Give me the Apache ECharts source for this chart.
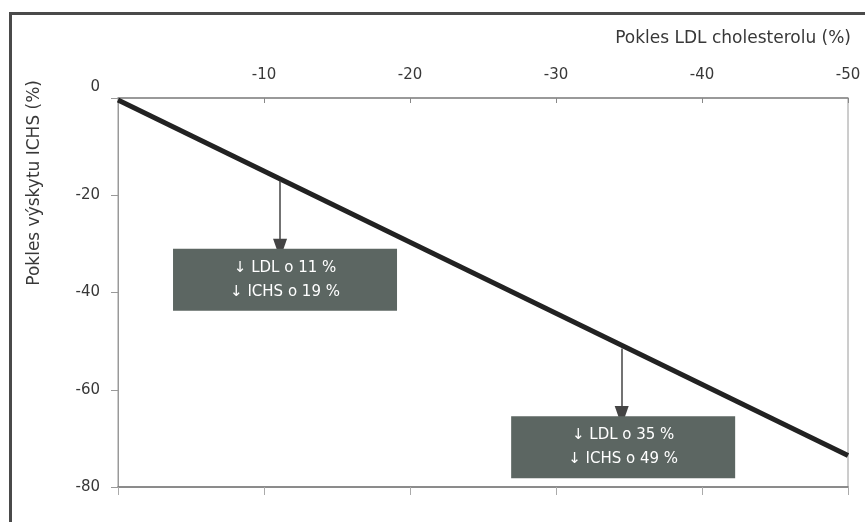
<!DOCTYPE html>
<html>
<head>
<meta charset="utf-8">
<script src="https://cdn.jsdelivr.net/npm/echarts@6/dist/echarts.min.js"></script>
<style>
html,body{margin:0;padding:0;background:#fff;}
#frame{position:absolute;left:9px;top:12px;width:880px;height:540px;border-left:3px solid #4a4a4a;border-top:3px solid #4a4a4a;box-sizing:border-box;}
#chart{position:absolute;left:0;top:0;width:865px;height:522px;}
</style>
</head>
<body>
<div id="frame"></div>
<div id="chart"></div>
<script>
// Data
const ldlDrop = [0, -50];          // Pokles LDL cholesterolu (%)
const ichsDrop = [-0.4, -73.5];    // Pokles výskytu ICHS (%)
const xTicks = [0, -10, -20, -30, -40, -50];
const yTicks = [0, -20, -40, -60, -80];
const annotLdl = [-11.1, -34.5];        // arrow x positions
const annotLineY = [-17, -51.5];        // arrow start (on the line)
const annotArrowEnd = [-31, -65.4];     // arrow tip
const annotBoxX = [-11.44, -34.6];
const annotBoxY = [-37.4, -71.8];
const annotText = ['↓ LDL o 11 %\n↓ ICHS o 19 %', '↓ LDL o 35 %\n↓ ICHS o 49 %'];
const xTitle = 'Pokles LDL cholesterolu (%)';
const yTitle = 'Pokles výskytu ICHS (%)';

const font = 'DejaVu Sans';
const chart = echarts.init(document.getElementById('chart'), null, {renderer: 'canvas'});

const lineData = ldlDrop.map((x, i) => [x, ichsDrop[i]]);
const arrows = annotLdl.map((x, i) => [
  {coord: [x, annotLineY[i]]},
  {coord: [x, annotArrowEnd[i]]}
]);
const boxes = annotBoxX.map((x, i) => ({
  coord: [x, annotBoxY[i]],
  label: {formatter: annotText[i]}
}));

chart.setOption({
  animation: false,
  backgroundColor: 'transparent',
  grid: {left: 118, right: 17, top: 98, bottom: 35, outerBoundsMode: 'none', containLabel: false,
    show: true, borderColor: '#9a9a9a', borderWidth: 1, backgroundColor: '#fff'},
  xAxis: [{
    type: 'value', position: 'top', inverse: true, min: -50, max: 0, interval: 10,
    axisLine: {lineStyle: {color: '#888', width: 1.5}},
    axisTick: {show: true, length: 5, inside: true, lineStyle: {color: '#888'}},
    axisLabel: {fontFamily: font, fontSize: 15, color: '#383838', margin: 15,
      formatter: v => (v === 0 ? '' : String(v))},
    splitLine: {show: false}
  }, {
    type: 'value', position: 'bottom', inverse: true, min: -50, max: 0, interval: 10,
    axisLine: {show: true, lineStyle: {color: '#777', width: 1.5}},
    axisTick: {show: true, length: 8, lineStyle: {color: '#aaa'}},
    axisLabel: {show: false},
    splitLine: {show: false}
  }],
  yAxis: {
    type: 'value', min: -80, max: 0, interval: 20,
    axisLine: {show: true, lineStyle: {color: '#999', width: 1}},
    axisTick: {show: true, length: 7, lineStyle: {color: '#999'}},
    axisLabel: {fontFamily: font, fontSize: 15, color: '#383838', margin: 18,
      formatter: v => (v === 0 ? '{z|0}' : String(v)),
      rich: {z: {fontFamily: font, fontSize: 15, color: '#383838', padding: [0, 0, 22, 0]}}},
    splitLine: {show: false}
  },
  graphic: [{
    type: 'text', left: 26, top: 80,
    rotation: Math.PI / 2,
    style: {text: yTitle, font: '17px "DejaVu Sans"', fill: '#383838'}
  }, {
    type: 'text', right: 14, top: 30,
    style: {text: xTitle, font: '17px "DejaVu Sans"', fill: '#383838'}
  }],
  series: [{
    type: 'line',
    data: lineData,
    symbol: 'none',
    lineStyle: {color: '#222', width: 5},
    z: 3,
    markLine: {
      silent: true,
      symbol: ['none', 'triangle'],
      symbolSize: [14, 20],
      label: {show: false},
      lineStyle: {color: '#444', width: 1.5, type: 'solid'},
      data: arrows
    },
    markPoint: {
      silent: true,
      symbol: 'rect',
      symbolSize: [224, 62],
      itemStyle: {color: '#5c6662'},
      label: {show: true, color: '#fff', fontFamily: font, fontSize: 15, lineHeight: 24},
      data: boxes
    }
  }]
});
</script>
</body>
</html>
